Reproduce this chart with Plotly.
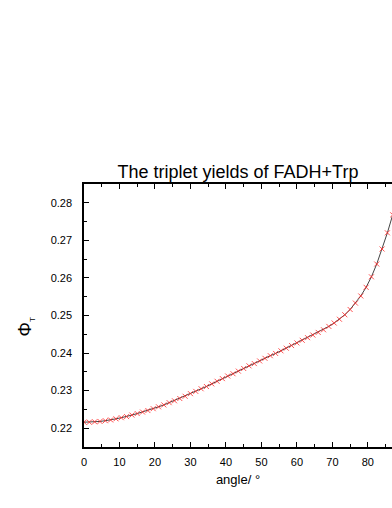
import plotly.graph_objects as go

# angle (degrees) and triplet yield
angles = [0, 1.5, 3, 4.5, 6, 7.5, 9, 10.5, 12, 13.5, 15, 16.5, 18, 19.5, 21, 22.5,
          24, 25.5, 27, 28.5, 30, 31.5, 33, 34.5, 36, 37.5, 39, 40.5, 42, 43.5,
          45, 46.5, 48, 49.5, 51, 52.5, 54, 55.5, 57, 58.5, 60, 61.5, 63, 64.5,
          66, 67.5, 69, 70.5, 72, 73.5, 75, 76.5, 78, 79.5, 81, 82.5, 84, 85.5, 87]
phi_t = [0.2216, 0.2216, 0.2217, 0.2218, 0.2220, 0.2222, 0.2225, 0.2228, 0.2231,
         0.2235, 0.2239, 0.2243, 0.2247, 0.2252, 0.2257, 0.2262, 0.2268, 0.2273,
         0.2279, 0.2285, 0.2292, 0.2298, 0.2305, 0.2311, 0.2318, 0.2325, 0.2332,
         0.2339, 0.2345, 0.2352, 0.2359, 0.2366, 0.2372, 0.2379, 0.2386, 0.2393,
         0.2399, 0.2406, 0.2413, 0.2420, 0.2427, 0.2434, 0.2441, 0.2448, 0.2455,
         0.2462, 0.2471, 0.2480, 0.2490, 0.2502, 0.2516, 0.2533, 0.2552, 0.2575,
         0.2603, 0.2637, 0.2677, 0.2720, 0.2768]

font = "Liberation Sans, Arial, sans-serif"

fig = go.Figure()
fig.add_trace(go.Scatter(
    x=angles, y=phi_t,
    mode="lines+markers",
    line=dict(color="#444444", width=1),
    marker=dict(symbol="x-thin", size=5, color="#ff3030",
                line=dict(color="rgba(255,40,40,0.8)", width=1)),
    showlegend=False,
))

axis_common = dict(
    showline=True, linecolor="black", linewidth=1.5,
    ticks="inside", ticklen=5, tickwidth=1, tickcolor="black",
    showgrid=False, zeroline=False,
    tickfont=dict(family=font, size=11, color="black"),
)

fig.update_layout(
    width=392, height=508,
    margin=dict(l=84, r=0, t=184, b=61),
    paper_bgcolor="white", plot_bgcolor="white",
    title=dict(text="The triplet yields of FADH+Trp", x=0.5, xref="paper",
               xanchor="center", y=(508 - 172) / 508, yanchor="middle",
               font=dict(family=font, size=18, color="black")),
    xaxis=dict(axis_common, range=[0, 86.8], dtick=10, mirror="ticks",
               ticklabelstandoff=4,
               minor=dict(ticks="inside", ticklen=3, dtick=5, tickcolor="black"),
               title=dict(text="angle/ °", standoff=8,
                          font=dict(family=font, size=13, color="black"))),
    yaxis=dict(axis_common, range=[0.215, 0.285], dtick=0.01, tickformat=".2f",
               ticklabelstandoff=8,
               minor=dict(ticks="inside", ticklen=3, dtick=0.005, tickcolor="black")),
    annotations=[dict(
        text="Φ<sub><span style='font-size:8px'>T</span></sub>",
        xref="paper", yref="paper", x=-0.23, y=0.455, textangle=-90,
        showarrow=False, font=dict(family=font, size=18, color="black"))],
)

fig.write_html(
    "out.html",
    config={"displayModeBar": False},
    post_script="document.body.style.margin='0';document.body.style.overflow='hidden';",
)
